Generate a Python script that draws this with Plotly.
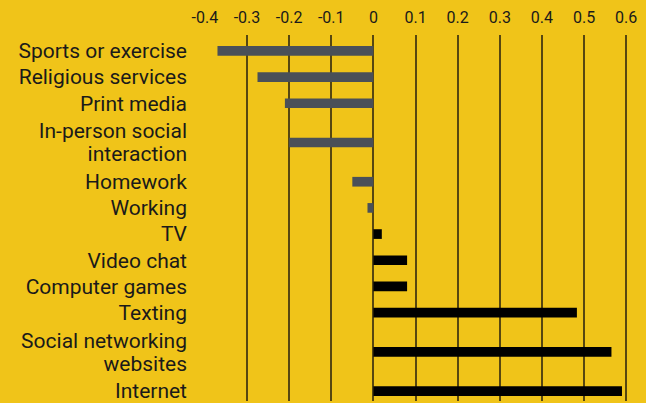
import plotly.graph_objects as go

categories = [
    "Sports or exercise",
    "Religious services",
    "Print media",
    "In-person social<br>interaction",
    "Homework",
    "Working",
    "TV",
    "Video chat",
    "Computer games",
    "Texting",
    "Social networking<br>websites",
    "Internet",
]
values = [-0.37, -0.275, -0.21, -0.20, -0.05, -0.014, 0.02, 0.08, 0.08, 0.483, 0.565, 0.59]
tick_vals = [-0.4, -0.3, -0.2, -0.1, 0, 0.1, 0.2, 0.3, 0.4, 0.5, 0.6]
tick_text = ["-0.4", "-0.3", "-0.2", "-0.1", "0", "0.1", "0.2", "0.3", "0.4", "0.5", "0.6"]

NEG = "#4a5058"
POS = "#000000"
BG = "#F0C419"
GRID = "#574710"

# Row layout: each row takes as many units as its label has lines
LINE_STEP = 0.88  # spacing between lines of a wrapped label, in row units
centers = []
y_tickvals = []
y_ticktext = []
pos = 0.0
for lab in categories:
    lines = lab.split("<br>")
    n = len(lines)
    c = pos + n / 2.0
    centers.append(c)
    for j, ln in enumerate(lines):
        y_tickvals.append(c + (j - (n - 1) / 2.0) * LINE_STEP)
        y_ticktext.append(ln)
    pos += n

colors = [NEG if v < 0 else POS for v in values]

fig = go.Figure(
    go.Bar(
        x=values,
        y=centers,
        orientation="h",
        marker=dict(color=colors, line=dict(width=0)),
        width=0.37,
        hovertext=[c.replace("<br>", " ") for c in categories],
        hoverinfo="x+text",
    )
)

fig.update_layout(
    width=646,
    height=403,
    margin=dict(l=204, r=0, t=35, b=0),
    paper_bgcolor=BG,
    plot_bgcolor=BG,
    showlegend=False,
    font=dict(family="Roboto, Liberation Sans, sans-serif", color="#1a1a1a"),
    xaxis=dict(
        side="top",
        range=[-0.402, 0.647],
        tickvals=tick_vals,
        ticktext=tick_text,
        showgrid=True,
        gridcolor=GRID,
        gridwidth=1.8,
        zeroline=True,
        zerolinecolor=GRID,
        zerolinewidth=1.8,
        ticks="",
        ticklabelstandoff=8,
        ticklabeloverflow="allow",
        tickfont=dict(size=16, color="#1a1a1a"),
        showline=False,
        fixedrange=True,
    ),
    yaxis=dict(
        range=[13.88, -0.108],
        tickvals=y_tickvals,
        ticktext=y_ticktext,
        showgrid=False,
        zeroline=False,
        ticks="",
        ticklabelstandoff=16,
        ticklabeloverflow="allow",
        tickfont=dict(size=21, color="#1a1a1a"),
        showline=False,
        fixedrange=True,
    ),
)

fig.write_html(
    "out.html",
    config={"displayModeBar": False},
    post_script="document.body.style.margin='0';",
)
